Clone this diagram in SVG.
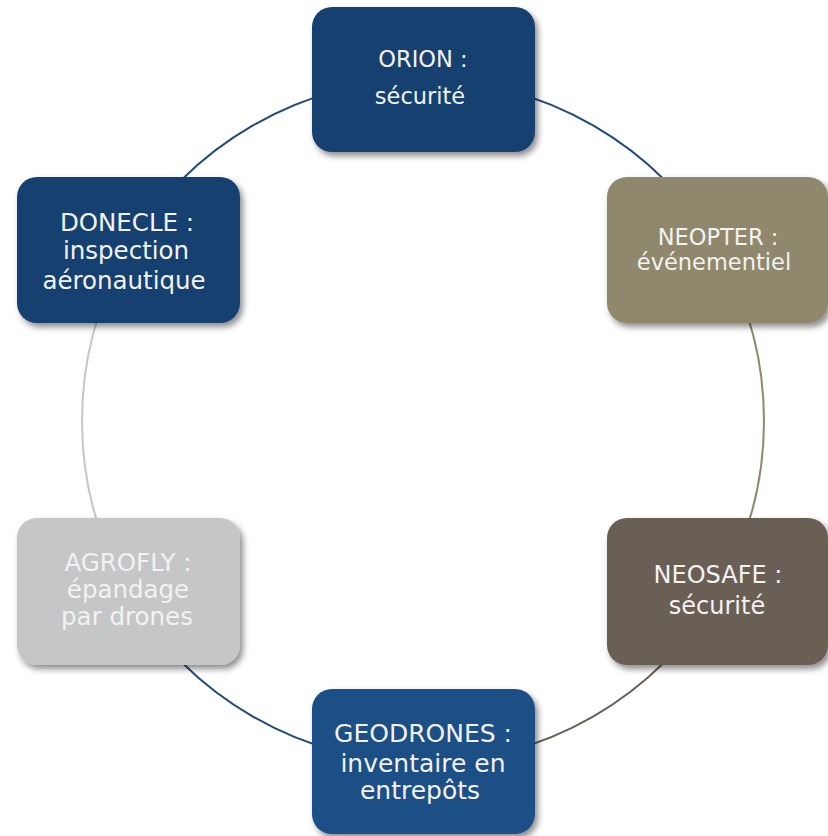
<svg xmlns="http://www.w3.org/2000/svg" width="828" height="836" viewBox="0 0 828 836">
<defs>
<filter id="sh" x="-10%" y="-10%" width="125%" height="130%">
<feDropShadow dx="3" dy="4" stdDeviation="3" flood-color="#000" flood-opacity="0.45"/>
</filter>
</defs>
<style>
.box{filter:url(#sh)}
.t{font-family:"DejaVu Sans","Liberation Sans",sans-serif;text-anchor:middle;fill:#f2f2f2}
.arc{fill:none;stroke-width:2}
</style>
<rect width="828" height="836" fill="#ffffff"/>
<g id="connectors">
<path class="arc" stroke="#1f4a7a" d="M 423 80 A 341 341 0 0 1 718.3 250.5"/>
<path class="arc" stroke="#8f886c" d="M 718.3 250.5 A 341 341 0 0 1 718.3 591.5"/>
<path class="arc" stroke="#6b5e55" d="M 718.3 591.5 A 341 341 0 0 1 423 762"/>
<path class="arc" stroke="#1f4a7a" d="M 423 762 A 341 341 0 0 1 127.7 591.5"/>
<path class="arc" stroke="#c5c6c8" d="M 127.7 591.5 A 341 341 0 0 1 127.7 250.5"/>
<path class="arc" stroke="#1f4a7a" d="M 127.7 250.5 A 341 341 0 0 1 423 80"/>
</g>
<g id="orion">
<rect class="box" x="312" y="7" width="223" height="145" rx="20" fill="#173f70"/>
<text class="t" x="423" y="67" font-size="22.5">ORION :</text>
<text class="t" x="420" y="104" font-size="22.5">sécurité</text>
</g>
<g id="neopter">
<rect class="box" x="607" y="177" width="221" height="146" rx="20" fill="#8f886c"/>
<text class="t" x="718" y="245" font-size="22.5" fill="#eeeeee">NEOPTER :</text>
<text class="t" x="714" y="270" font-size="22.5" fill="#eeeeee">événementiel</text>
</g>
<g id="neosafe">
<rect class="box" x="607" y="518" width="221" height="147" rx="20" fill="#6b5e55"/>
<text class="t" x="718" y="583" font-size="24">NEOSAFE :</text>
<text class="t" x="717" y="614" font-size="24">sécurité</text>
</g>
<g id="geodrones">
<rect class="box" x="312" y="689" width="223" height="145" rx="20" fill="#1b4f86"/>
<text class="t" x="423" y="742" font-size="25">GEODRONES :</text>
<text class="t" x="423" y="772" font-size="25">inventaire en</text>
<text class="t" x="420" y="799" font-size="25">entrepôts</text>
</g>
<g id="agrofly">
<rect class="box" x="17" y="518" width="223" height="147" rx="20" fill="#c5c6c8"/>
<text class="t" x="128" y="571" font-size="24.5" fill="#f5f5f5">AGROFLY :</text>
<text class="t" x="128" y="598" font-size="24.5" fill="#f5f5f5">épandage</text>
<text class="t" x="127" y="625" font-size="24.5" fill="#f5f5f5">par drones</text>
</g>
<g id="donecle">
<rect class="box" x="17" y="177" width="223" height="146" rx="20" fill="#173f70"/>
<text class="t" x="127" y="231" font-size="24.5">DONECLE :</text>
<text class="t" x="126" y="259" font-size="24.5">inspection</text>
<text class="t" x="124" y="289" font-size="24.5">aéronautique</text>
</g>
</svg>
